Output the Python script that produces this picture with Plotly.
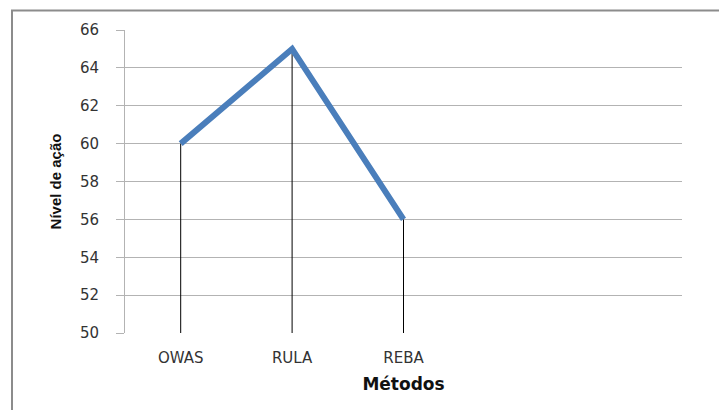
import plotly.graph_objects as go

categories = ["OWAS", "RULA", "REBA"]
values = [60, 65, 56]
y_ticks = [50, 52, 54, 56, 58, 60, 62, 64, 66]
n_slots = 5

x_idx = list(range(len(categories)))
base = y_ticks[0]

fig = go.Figure()
fig.add_trace(go.Scatter(
    x=x_idx, y=values, mode="lines",
    line=dict(color="#4a7ebb", width=6),
    error_y=dict(type="data", symmetric=False,
                 array=[0] * len(values),
                 arrayminus=[v - base for v in values],
                 color="black", thickness=1, width=0),
    showlegend=False, hoverinfo="skip",
))

L, R, T, B = 125, 37, 29.5, 77
W, H = 719, 410
pw, ph = W - L - R, H - T - B
# outer chart frame (left edge x=12, top edge y=10 in pixels)
fig.add_shape(type="rect", xref="paper", yref="paper",
              x0=(12 - L) / pw, x1=(W + 20 - L) / pw,
              y0=(H - B - (H + 20)) / ph, y1=(H - B - 10) / ph,
              line=dict(color="#8c8c8c", width=2), layer="below")

tick_font = dict(family="DejaVu Sans", size=15, color="#333333")
fig.update_layout(
    width=W, height=H,
    margin=dict(l=L, r=R, t=T, b=B),
    paper_bgcolor="white", plot_bgcolor="white",
    font=dict(family="DejaVu Sans", color="#333333"),
    xaxis=dict(range=[-0.5, n_slots - 0.5], tickvals=x_idx, ticktext=categories,
               showgrid=False, zeroline=False, showline=False, ticks="",
               tickfont=tick_font, ticklabelstandoff=14,
               title=dict(text="<b>Métodos</b>", font=dict(family="DejaVu Sans", size=17, color="#111111"), standoff=12)),
    yaxis=dict(range=[50, 66], tickvals=y_ticks, showgrid=True, gridcolor="#b3b3b3", gridwidth=1,
               zeroline=False, showline=True, linecolor="#b3b3b3", linewidth=1,
               ticks="outside", ticklen=8, tickcolor="#b3b3b3",
               tickfont=tick_font, ticklabelstandoff=14,
               title=dict(text="<b>Nível de ação</b>", font=dict(size=15, color="#111111", family="Liberation Sans"), standoff=14)),
)

fig.write_html("out.html")
